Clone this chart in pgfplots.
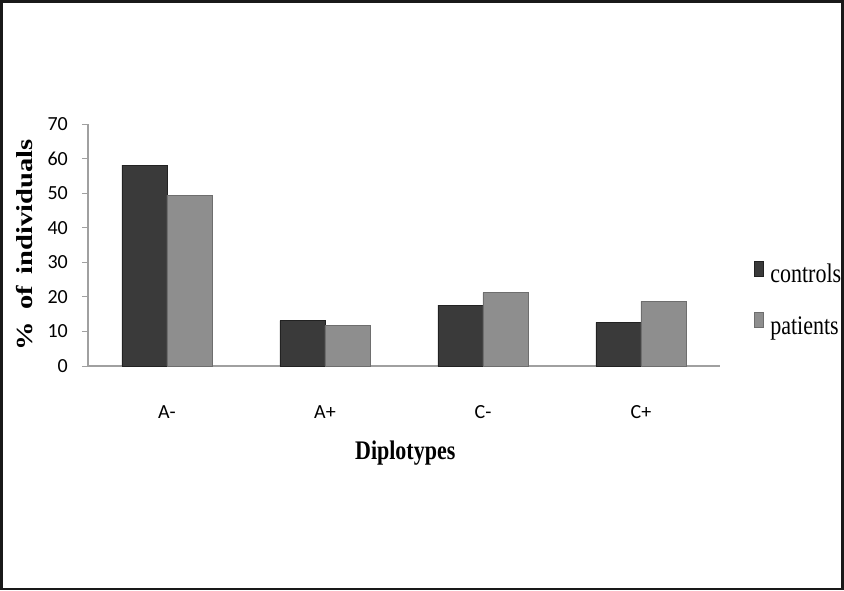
\documentclass[border=0pt]{standalone}
\usepackage{pgfplots}
\pgfplotsset{compat=1.18}
\usepackage{fontspec}
\setmainfont{Liberation Serif}
\newfontfamily\tickfont{Carlito}
\definecolor{ctrl}{HTML}{3A3A3A}
\definecolor{ctrlE}{HTML}{222222}
\definecolor{pat}{HTML}{8E8E8E}
\definecolor{patE}{HTML}{6E6E6E}
\definecolor{axgray}{HTML}{A0A0A0}
\begin{document}
\begin{tikzpicture}
\useasboundingbox (0pt,0pt) rectangle (844pt,590pt);
\draw[line width=2.5pt, black!90] (1.25pt,1.25pt) rectangle (842.5pt,588.5pt);
\begin{axis}[
  at={(88pt,224pt)}, anchor=south west,
  scale only axis, width=632pt, height=242pt,
  ymin=0, ymax=70, ytick={0,10,...,70},
  xmin=-0.5, xmax=3.5, xtick={0,1,2,3}, xticklabels={A-,A+,C-,C+},
  axis x line*=bottom, axis y line*=left,
  axis line style={draw=axgray, line width=1.2pt, -},
  tick align=outside, major tick length=6pt,
  ytick style={draw=axgray, line width=1pt},
  xtick style={draw=none},
  /pgf/number format/assume math mode=true,
  yticklabel style={font=\tickfont\fontsize{20}{20}\selectfont, inner sep=0pt, anchor=east, xshift=-14pt},
  xticklabel style={font=\tickfont\fontsize{20}{20}\selectfont, inner sep=0pt, anchor=center, yshift=-40pt},
  ylabel={\scalebox{1.24}[1]{\%\hspace{0.45em}of\hspace{0.4em}individuals}},
  ylabel style={font=\bfseries\fontsize{23}{23}\selectfont, at={(axis description cs:-0.0997,0.5)}, anchor=center},
  xlabel={\scalebox{1}[1.22]{Diplotypes}},
  xlabel style={font=\bfseries\fontsize{22}{22}\selectfont, at={(axis description cs:0.502,-0.36)}, anchor=center},
  ybar=0pt, bar width=45pt,
  legend style={at={(axis description cs:1.048,0.273)}, anchor=west, draw=none, fill=none,
    font=\fontsize{22}{22}\selectfont,
    nodes={inner sep=0pt, text height=16pt, text depth=5pt},
    row sep=25pt,
    /tikz/every odd column/.append style={column sep=7pt}},
  legend cell align=left,
  legend image code/.code={\fill[#1] (0pt,1pt) rectangle (9pt,16pt);},
]
\addplot[fill=ctrl, draw=ctrlE, line width=0.8pt] coordinates {(0,58.1) (1,13.1) (2,17.6) (3,12.6)};
\addplot[fill=pat, draw=patE, line width=0.8pt] coordinates {(0,49.4) (1,11.6) (2,21.2) (3,18.7)};
\legend{\scalebox{1}[1.22]{controls},\scalebox{1}[1.22]{patients}}
\end{axis}
\end{tikzpicture}
\end{document}
